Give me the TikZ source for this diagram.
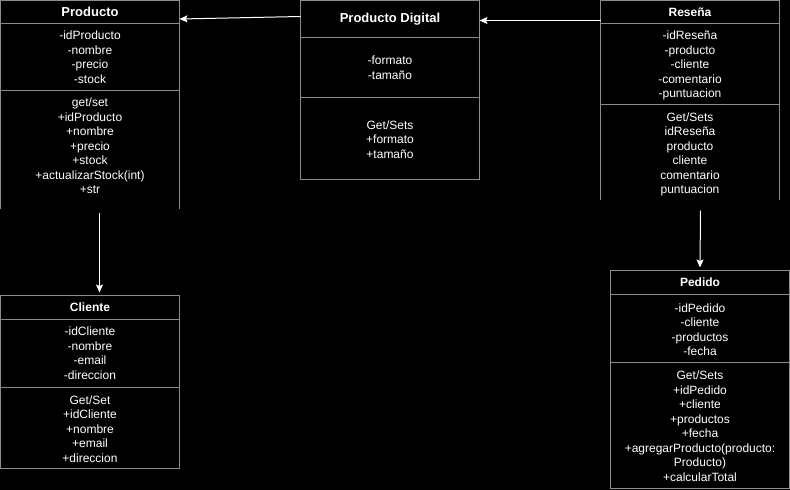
\documentclass[tikz,border=0pt]{standalone}
\usepackage{fontspec}
\setmainfont{Liberation Sans}
\usetikzlibrary{arrows.meta}
\definecolor{edgegray}{HTML}{8C8C8C}
\begin{document}
\begin{tikzpicture}[x=1pt,y=-1pt,
  txt/.style={text=white, align=center, inner sep=0pt, font=\fontsize{12}{14.5}\selectfont,
    execute at begin node=\strut, execute at end node=\strut, yshift=-2.5pt},
  ttl/.style={text=white, inner sep=0pt, font=\bfseries\fontsize{12}{14.5}\selectfont},
  bigttl/.style={ttl, font=\bfseries\fontsize{13}{15}\selectfont},
  boxarea/.style={inner sep=0pt, outer sep=0pt, anchor=north west},
  frame/.style={draw=edgegray, line width=1pt},
  conn/.style={draw=white, line width=1pt, -{Stealth[length=8pt,width=7pt,inset=1.5pt]}}]
\fill[black] (0,0) rectangle (790,490);
\useasboundingbox (0,0) rectangle (790,490);

% ---------- Producto ----------
\node[boxarea, minimum width=179pt, minimum height=208.5pt] (prod) at (0.5,0.5) {};
\draw[frame] (prod.south west) -- (prod.north west) -- (prod.north east) -- (prod.south east);
\draw[frame] (0.5,23.5) -- (179.5,23.5);
\draw[frame] (0.5,90.5) -- (179.5,90.5);
\node[bigttl] (prodT) at (90,12) {Producto};
\node[txt] (prodA) at (90,57) {-idProducto\\-nombre\\-precio\\-stock};
\node[txt] (prodM) at (90,145.5) {get/set\\+idProducto\\+nombre\\+precio\\+stock\\+actualizarStock(int)\\+str};

% ---------- Producto Digital ----------
\node[boxarea, frame, minimum width=179pt, minimum height=179pt] (pd) at (300.5,0.5) {};
\draw[frame] (300.5,37.5) -- (479.5,37.5);
\draw[frame] (300.5,97.5) -- (479.5,97.5);
\node[bigttl] (pdT) at (390,19) {Producto Digital};
\node[txt] (pdA) at (390,67.5) {-formato\\-tamaño};
\node[txt] (pdM) at (390,139) {Get/Sets\\+formato\\+tamaño};

% ---------- Reseña ----------
\node[boxarea, minimum width=179pt, minimum height=199pt] (res) at (600.5,0.5) {};
\draw[frame] (res.south west) -- (res.north west) -- (res.north east) -- (res.south east);
\draw[frame] (600.5,23.5) -- (779.5,23.5);
\draw[frame] (600.5,104.5) -- (779.5,104.5);
\node[ttl] (resT) at (690,12) {Reseña};
\node[txt] (resA) at (690,64) {-idReseña\\-producto\\-cliente\\-comentario\\-puntuacion};
\node[txt] (resM) at (690,153) {Get/Sets\\idReseña\\producto\\cliente\\comentario\\puntuacion};

% ---------- Cliente ----------
\node[boxarea, frame, minimum width=179pt, minimum height=173pt] (cli) at (0.5,295.5) {};
\draw[frame] (0.5,319.5) -- (179.5,319.5);
\draw[frame] (0.5,387.5) -- (179.5,387.5);
\node[ttl] (cliT) at (90,307) {Cliente};
\node[txt] (cliA) at (90,353) {-idCliente\\-nombre\\-email\\-direccion};
\node[txt] (cliM) at (90,428.5) {Get/Set\\+idCliente\\+nombre\\+email\\+direccion};

% ---------- Pedido ----------
\node[boxarea, frame, minimum width=179pt, minimum height=218pt] (ped) at (610.5,270.5) {};
\draw[frame] (610.5,294.5) -- (789.5,294.5);
\draw[frame] (610.5,362.5) -- (789.5,362.5);
\node[ttl] (pedT) at (700,282) {Pedido};
\node[txt] (pedA) at (700,329.5) {-idPedido\\-cliente\\-productos\\-fecha};
\node[txt] (pedM) at (700,426) {Get/Sets\\+idPedido\\+cliente\\+productos\\+fecha\\+agregarProducto(producto:\\Producto)\\+calcularTotal};

% ---------- connectors ----------
\draw[conn] ([yshift=-16pt]pd.north west) -- ([yshift=-18.5pt]prod.north east);
\draw[conn] ([yshift=-20pt]res.north west) -- ([yshift=-20pt]pd.north east);
\draw[conn] ([xshift=9.5pt,yshift=-4pt]prod.south) -- ([xshift=9.5pt,yshift=3pt]cli.north);
\draw[conn] ([xshift=10.5pt,yshift=-11pt]res.south) -- ([yshift=3pt]ped.north);
\end{tikzpicture}
\end{document}
